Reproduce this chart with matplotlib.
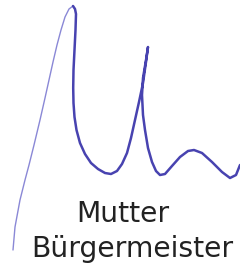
import matplotlib
matplotlib.use("Agg")
import matplotlib.pyplot as plt

# Signature stroke (pixel coordinates of the 240x263 image, y downward)
lead_x = [13, 15, 20, 25, 29, 34, 40, 45, 49, 53, 57, 61, 65, 69, 73]
lead_y = [250, 227, 200, 180, 165, 145, 120, 98, 80, 62, 45, 30, 17, 9, 6]

main_x = [73, 75, 76, 75.5, 74.5, 73.5, 73.2, 73.5, 74.5, 76.5, 80, 85, 91, 98,
          105, 111, 117, 122, 127, 131, 135, 139, 143, 146, 148, 146, 143, 142,
          143, 145, 148, 152, 156, 160, 165, 172, 180, 188, 194, 202, 212, 222,
          230, 236, 240]
main_y = [6, 9, 14, 30, 50, 70, 88, 103, 117, 130, 143, 154, 163, 169,
          173, 174, 171, 164, 153, 138, 120, 102, 83, 62, 47, 60, 78, 95,
          115, 130, 148, 162, 171, 175, 174, 166, 157, 151, 150, 153, 162, 172,
          178, 175, 165]

labels = ["Mutter", "Bürgermeister"]
label_x = [122.5, 132]
label_y = [222, 257]

fig = plt.figure(figsize=(2.40, 2.63), dpi=100)
ax = fig.add_axes([0, 0, 1, 1])
ax.set_xlim(0, 240)
ax.set_ylim(263, 0)
ax.axis("off")

ax.plot(lead_x, lead_y, color="#8a88d6", lw=1.0, solid_capstyle="round",
        solid_joinstyle="round")
ax.plot(main_x, main_y, color="#4843b0", lw=1.8, solid_capstyle="round",
        solid_joinstyle="round")

for t, x, y in zip(labels, label_x, label_y):
    ax.text(x, y, t, ha="center", va="baseline", fontsize=20.3,
            family="DejaVu Sans", color="#222222")

fig.savefig("out.png", dpi=100, facecolor="white")
